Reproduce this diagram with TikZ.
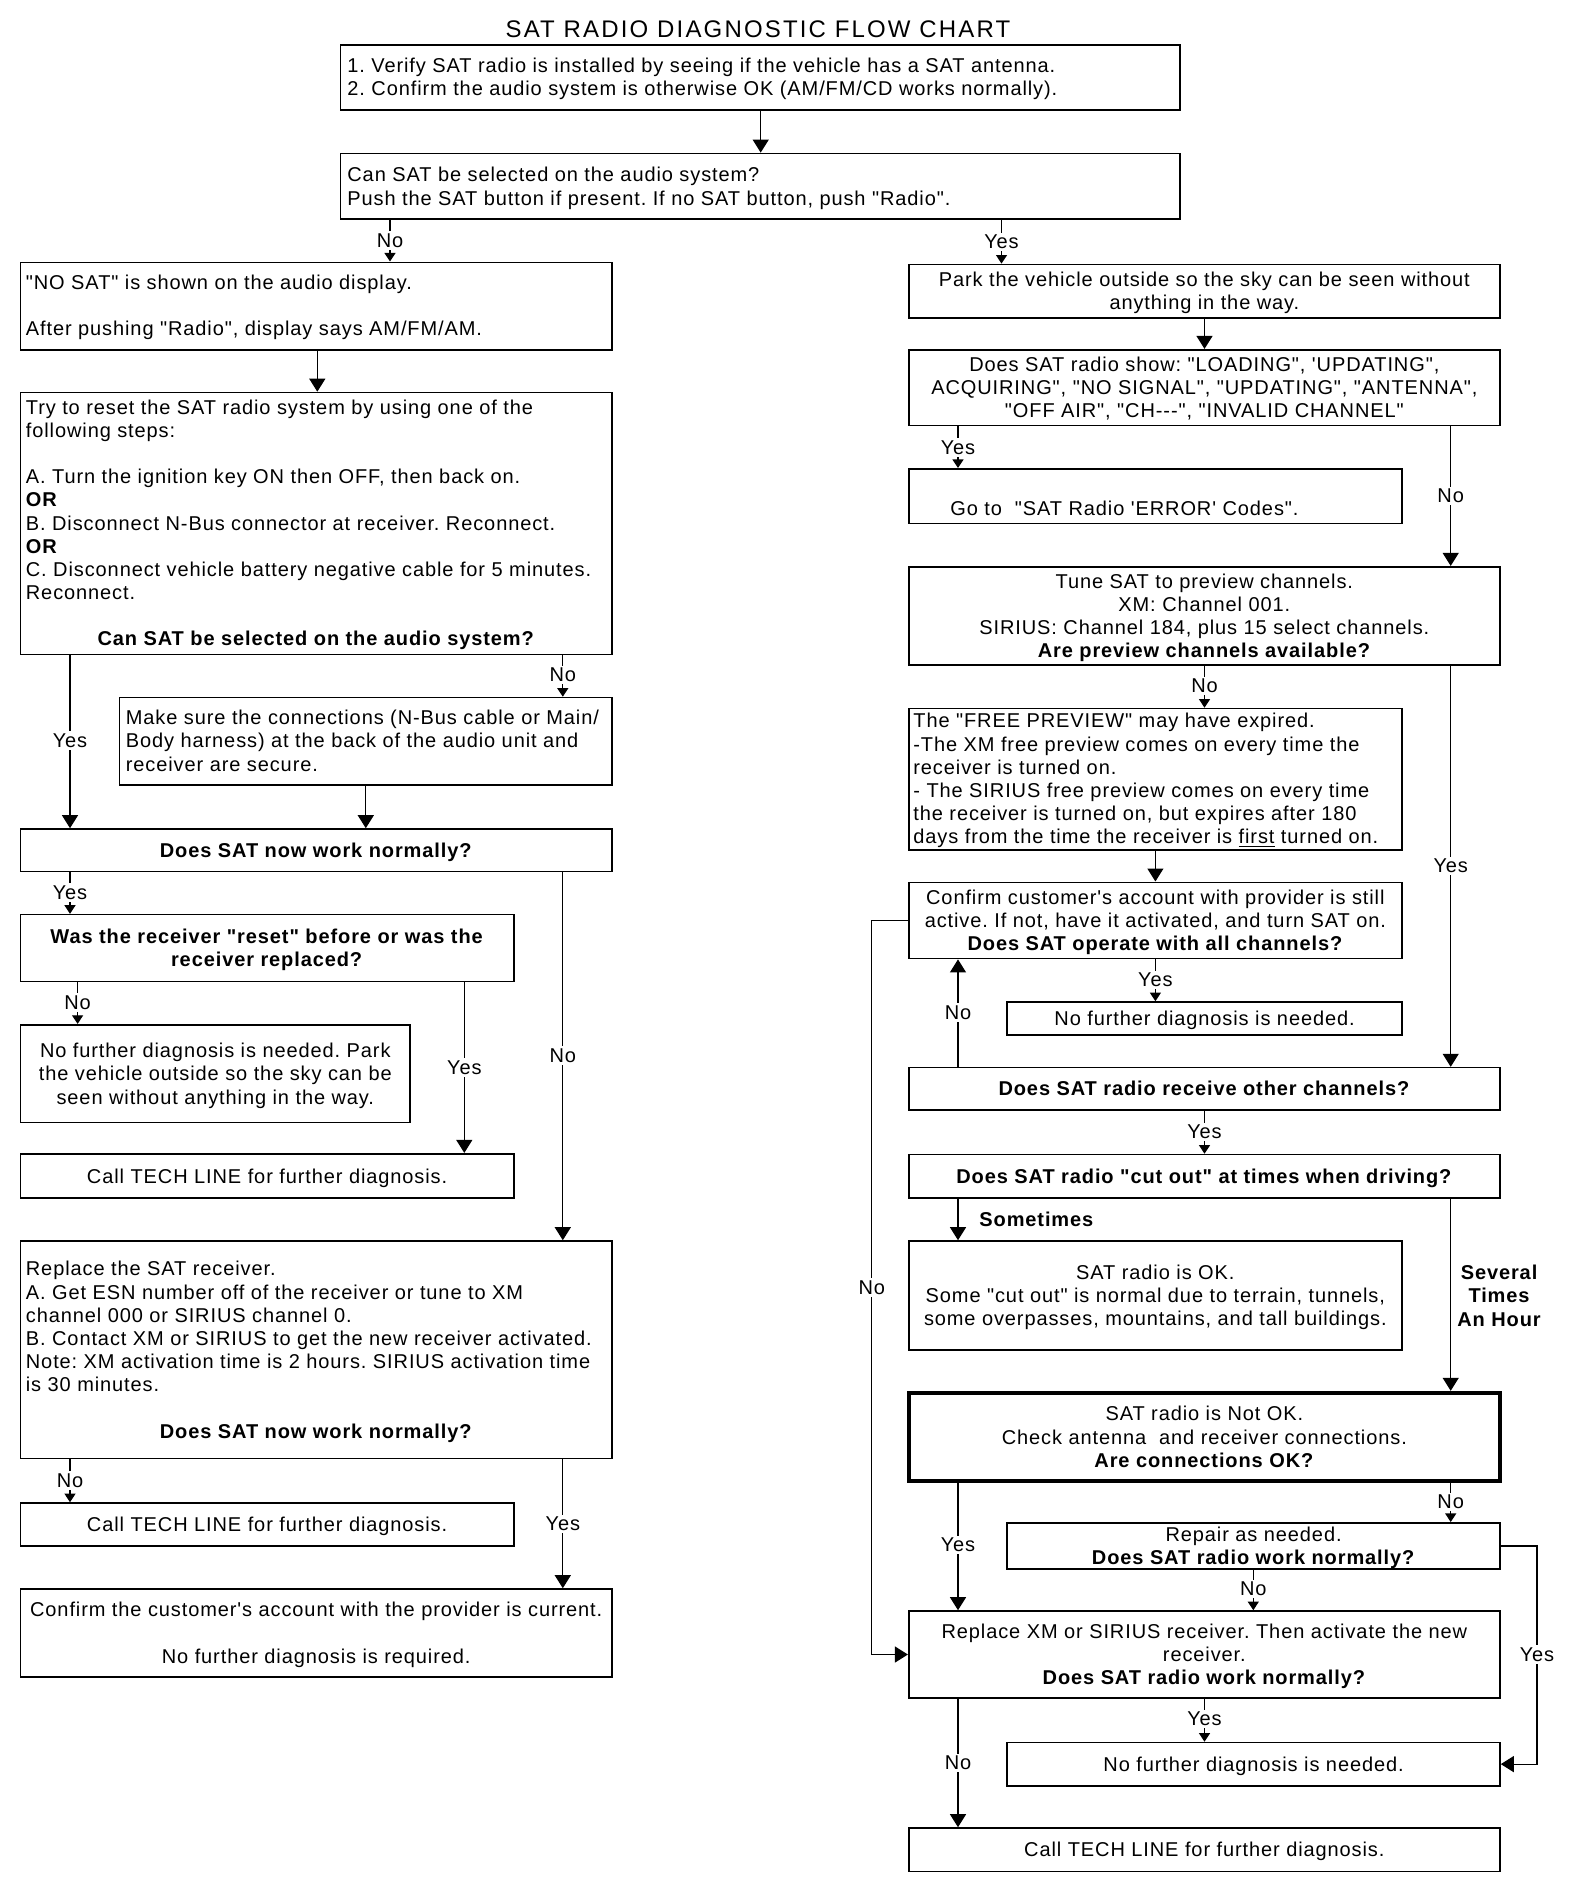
\documentclass[tikz,border=0pt]{standalone}
\usepackage{fontspec}
\setmainfont{Liberation Sans}[LetterSpace=4.5]
\newfontfamily\mainf{Liberation Sans}[LetterSpace=4.5]
\newfontfamily\titlefont{Liberation Sans}[LetterSpace=9]
\usetikzlibrary{arrows.meta}
\frenchspacing
\newcommand\nf{\mainf\fontsize{10}{11.6}\selectfont\frenchspacing}
\newcommand\tst{\rule[-2.22pt]{0pt}{11.6pt}}
% [opts]{name}{left}{top}{right}{bottom}{text}
\newcommand\mybox[7][]{%
  \node[bx,#1,minimum width={(#5-#3)*0.5pt},minimum height={(#6-#4)*0.5pt}] (#2) at ({(#3+#5)/2},{(#4+#6)/2}) {#7};}
\begin{document}
\begin{tikzpicture}[x=0.5pt,y=-0.5pt,
  bx/.style={draw, line width=0.8pt, inner sep=0pt, align=center, font=\nf},
  thickbx/.style={line width=2pt},
  txt/.style={inner sep=0pt, font=\nf},
  ln/.style={line width=0.6pt},
  abig/.style={ln,-{Triangle[length=6.5pt,width=8pt]}},
  asml/.style={ln,-{Triangle[length=4.3pt,width=5.5pt]}},
  lbl/.style={fill=white, inner sep=1.2pt, font=\nf},
]
\fill[white] (0,0) rectangle (1584,1890);
\useasboundingbox (0,0) rectangle (1584,1890);

% column coordinates
\coordinate (cA) at (760.7,0);
\coordinate (cB) at (390,0);
\coordinate (cC) at (1001.5,0);
\coordinate (cD) at (317.3,0);
\coordinate (cE) at (1204.5,0);
\coordinate (cF) at (958,0);
\coordinate (cG) at (1450.7,0);
\coordinate (cH) at (70,0);
\coordinate (cI) at (562.8,0);
\coordinate (cJ) at (365.8,0);
\coordinate (cK) at (77.6,0);
\coordinate (cL) at (464.3,0);
\coordinate (cM) at (1155.4,0);
\coordinate (cN) at (871.8,0);
\coordinate (cO) at (1253.3,0);
\coordinate (cP) at (1537,0);

\node[inner sep=0pt, font=\titlefont\fontsize{12}{14}\selectfont] (title) at (758,29) {SAT RADIO DIAGNOSTIC FLOW CHART};

% boxes
\mybox{b1}{340.3}{44.9}{1180}{110.2}{}
\mybox{b2}{340.3}{153.4}{1180}{219}{}
\mybox{b3}{20.4}{262.3}{612}{349.7}{}
\mybox{b4}{20.4}{392.5}{612}{654.3}{}
\mybox{b5}{908.7}{264.4}{1500}{318}{\tst Park the vehicle outside so the sky can be seen without\\anything in the way.\tst}
\mybox{b6}{908.7}{349.7}{1500}{425.5}{\tst Does SAT radio show: "LOADING", 'UPDATING",\\ACQUIRING", "NO SIGNAL", "UPDATING", "ANTENNA",\\"OFF AIR", "CH---", "INVALID CHANNEL"\tst}
\mybox{b7}{908.7}{468.8}{1402}{523.5}{}
\mybox{b8}{908.7}{566.7}{1500}{664.9}{\tst Tune SAT to preview channels.\\XM: Channel 001.\\SIRIUS: Channel 184, plus 15 select channels.\\\textbf{Are preview channels available?}\tst}
\mybox{b9}{119.4}{697.5}{612}{785}{}
\mybox{b10}{20.4}{829}{612}{871.3}{\tst\textbf{Does SAT now work normally?}\tst}
\mybox{b11}{20.4}{914.6}{513.8}{981.5}{\tst\textbf{Was the receiver "reset" before or was the}\\\textbf{receiver replaced?}\tst}
\mybox{b12}{20.4}{1024.7}{410.2}{1122.6}{\tst No further diagnosis is needed. Park\\the vehicle outside so the sky can be\\seen without anything in the way.\tst}
\mybox{b13}{20.4}{1153.7}{513.8}{1198}{\tst Call TECH LINE for further diagnosis.\tst}
\mybox{b14}{20.4}{1241}{612}{1458.5}{}
\mybox{b15}{20.4}{1503}{513.8}{1545.8}{\tst Call TECH LINE for further diagnosis.\tst}
\mybox{b16}{20.4}{1589}{612}{1677}{\tst Confirm the customer's account with the provider is current.\\[11.6pt]No further diagnosis is required.\tst}
\mybox{b17}{908.7}{708.5}{1402}{849.7}{}
\mybox{b18}{908.7}{882.3}{1402}{958.6}{\tst Confirm customer's account with provider is still\\active. If not, have it activated, and turn SAT on.\\\textbf{Does SAT operate with all channels?}\tst}
\mybox{b19}{1007.2}{1002}{1402}{1035}{\tst No further diagnosis is needed.\tst}
\mybox{b20}{908.7}{1067.6}{1500}{1110}{\tst\textbf{Does SAT radio receive other channels?}\tst}
\mybox{b21}{908.7}{1154.5}{1500}{1198.2}{\tst\textbf{Does SAT radio "cut out" at times when driving?}\tst}
\mybox{b22}{908.7}{1241}{1402}{1350}{\tst SAT radio is OK.\\Some "cut out" is normal due to terrain, tunnels,\\some overpasses, mountains, and tall buildings.\tst}
\mybox[thickbx]{b23}{908.7}{1392.8}{1500}{1481}{\tst SAT radio is Not OK.\\Check antenna\ \ and receiver connections.\\\textbf{Are connections OK?}\tst}
\mybox{b24}{1007.2}{1524}{1500}{1568}{\tst Repair as needed.\\\textbf{Does SAT radio work normally?}\tst}
\mybox{b25}{908.7}{1611}{1500}{1698}{\tst Replace XM or SIRIUS receiver. Then activate the new\\receiver.\\\textbf{Does SAT radio work normally?}\tst}
\mybox{b26}{1007.2}{1742.5}{1500}{1785.7}{\tst No further diagnosis is needed.\tst}
\mybox{b27}{908.7}{1828}{1500}{1871.4}{\tst Call TECH LINE for further diagnosis.\tst}

% left-aligned texts
\node[txt, anchor=west, align=left] (t1) at (347,77.2) {\tst 1. Verify SAT radio is installed by seeing if the vehicle has a SAT antenna.\\2. Confirm the audio system is otherwise OK (AM/FM/CD works normally).\tst};
\node[txt, anchor=west, align=left] (t2) at (347,186.3) {\tst Can SAT be selected on the audio system?\\Push the SAT button if present. If no SAT button, push "Radio".\tst};
\node[txt, anchor=west, align=left] (t3) at (25.5,305.2) {\tst "NO SAT" is shown on the audio display.\\[11.6pt]After pushing "Radio", display says AM/FM/AM.\tst};
\node[txt, anchor=west, align=left] (t4) at (25.5,499.7) {\tst Try to reset the SAT radio system by using one of the\\following steps:\\[11.6pt]A. Turn the ignition key ON then OFF, then back on.\\\textbf{OR}\\B. Disconnect N-Bus connector at receiver. Reconnect.\\\textbf{OR}\\C. Disconnect vehicle battery negative cable for 5 minutes.\\Reconnect.\tst};
\node[txt] (t4b) at (316.2,638.8) {\tst\textbf{Can SAT be selected on the audio system?}\tst};
\node[txt, anchor=west] (t7) at (950,508) {\tst Go to\ \ "SAT Radio 'ERROR' Codes".\tst};
\node[txt, anchor=west, align=left] (t9) at (125.5,740.8) {\tst Make sure the connections (N-Bus cable or Main/\\Body harness) at the back of the audio unit and\\receiver are secure.\tst};
\node[txt, anchor=west, align=left] (t14) at (25.5,1326.7) {\tst Replace the SAT receiver.\\A. Get ESN number off of the receiver or tune to XM\\channel 000 or SIRIUS channel 0.\\B. Contact XM or SIRIUS to get the new receiver activated.\\Note: XM activation time is 2 hours. SIRIUS activation time\\is 30 minutes.\tst};
\node[txt] (t14b) at (316.2,1431.6) {\tst\textbf{Does SAT now work normally?}\tst};
\node[txt, anchor=west, align=left] (t17) at (913,778.7) {\tst The "FREE PREVIEW" may have expired.\\-The XM free preview comes on every time the\\receiver is turned on.\\- The SIRIUS free preview comes on every time\\the receiver is turned on, but expires after 180\\days from the time the receiver is \underline{first} turned on.\tst};

% connectors
\draw[abig] (b1.south -| cA) -- (b2.north -| cA);
\draw[asml] (b2.south -| cB) -- (b3.north -| cB);
\draw[asml] (b2.south -| cC) -- (b5.north -| cC);
\draw[abig] (b3.south -| cD) -- (b4.north -| cD);
\draw[abig] (b5.south -| cE) -- (b6.north -| cE);
\draw[asml] (b6.south -| cF) -- (b7.north -| cF);
\draw[abig] (b6.south -| cG) -- (b8.north -| cG);
\draw[abig] (b4.south -| cH) -- (b10.north -| cH);
\draw[asml] (b4.south -| cI) -- (b9.north -| cI);
\draw[abig] (b9.south -| cJ) -- (b10.north -| cJ);
\draw[asml] (b10.south -| cH) -- (b11.north -| cH);
\draw[asml] (b11.south -| cK) -- (b12.north -| cK);
\draw[abig] (b11.south -| cL) -- (b13.north -| cL);
\draw[abig] (b10.south -| cI) -- (b14.north -| cI);
\draw[asml] (b14.south -| cH) -- (b15.north -| cH);
\draw[abig] (b14.south -| cI) -- (b16.north -| cI);
\draw[asml] (b8.south -| cE) -- (b17.north -| cE);
\draw[abig] (b17.south -| cM) -- (b18.north -| cM);
\draw[abig] (b8.south -| cG) -- (b20.north -| cG);
\draw[asml] (b18.south -| cM) -- (b19.north -| cM);
\draw[abig] (b20.north -| cF) -- (b18.south -| cF);
\draw[asml] (b20.south -| cE) -- (b21.north -| cE);
\draw[abig] (b21.south -| cF) -- (b22.north -| cF);
\draw[abig] (b21.south -| cG) -- (b23.north -| cG);
\draw[abig] (b18.west) -- (b18.west -| cN) -- (b25.west -| cN) -- (b25.west);
\draw[asml] (b23.south -| cG) -- (b24.north -| cG);
\draw[abig] (b23.south -| cF) -- (b25.north -| cF);
\draw[asml] (b24.south -| cO) -- (b25.north -| cO);
\draw[abig] (b24.east) -- (b24.east -| cP) -- (b26.east -| cP) -- (b26.east);
\draw[asml] (b25.south -| cE) -- (b26.north -| cE);
\draw[abig] (b25.south -| cF) -- (b27.north -| cF);

% labels
\node[lbl] (l1) at (390,240.7) {No};
\node[lbl] (l2) at (1001.5,242) {Yes};
\node[lbl] (l3) at (958,447.6) {Yes};
\node[lbl] (l4) at (1450.7,496) {No};
\node[lbl] (l5) at (70,740.4) {Yes};
\node[lbl] (l6) at (562.8,675) {No};
\node[lbl] (l7) at (70,892.5) {Yes};
\node[lbl] (l8) at (77.6,1002.7) {No};
\node[lbl] (l9) at (464.3,1067.6) {Yes};
\node[lbl] (l10) at (562.8,1055.7) {No};
\node[lbl] (l11) at (70,1480.5) {No};
\node[lbl] (l12) at (562.8,1524) {Yes};
\node[lbl] (l13) at (1204.5,686) {No};
\node[lbl] (l14) at (1450.7,866) {Yes};
\node[lbl] (l15) at (1155.4,979.9) {Yes};
\node[lbl] (l16) at (958,1012.5) {No};
\node[lbl] (l17) at (1204.5,1132) {Yes};
\node[lbl] (l18) at (871.8,1287.5) {No};
\node[lbl] (l19) at (1450.7,1502) {No};
\node[lbl] (l20) at (958,1545) {Yes};
\node[lbl] (l21) at (1253.3,1589) {No};
\node[lbl] (l22) at (1537,1654.7) {Yes};
\node[lbl] (l23) at (1204.5,1719) {Yes};
\node[lbl] (l24) at (958,1763) {No};
\node[txt, anchor=west] (smt) at (979,1219) {\tst\textbf{Sometimes}\tst};
\node[txt, align=center] (sev) at (1499.5,1295.7) {\tst\textbf{Several}\\\textbf{Times}\\\textbf{An Hour}\tst};
\end{tikzpicture}
\end{document}
